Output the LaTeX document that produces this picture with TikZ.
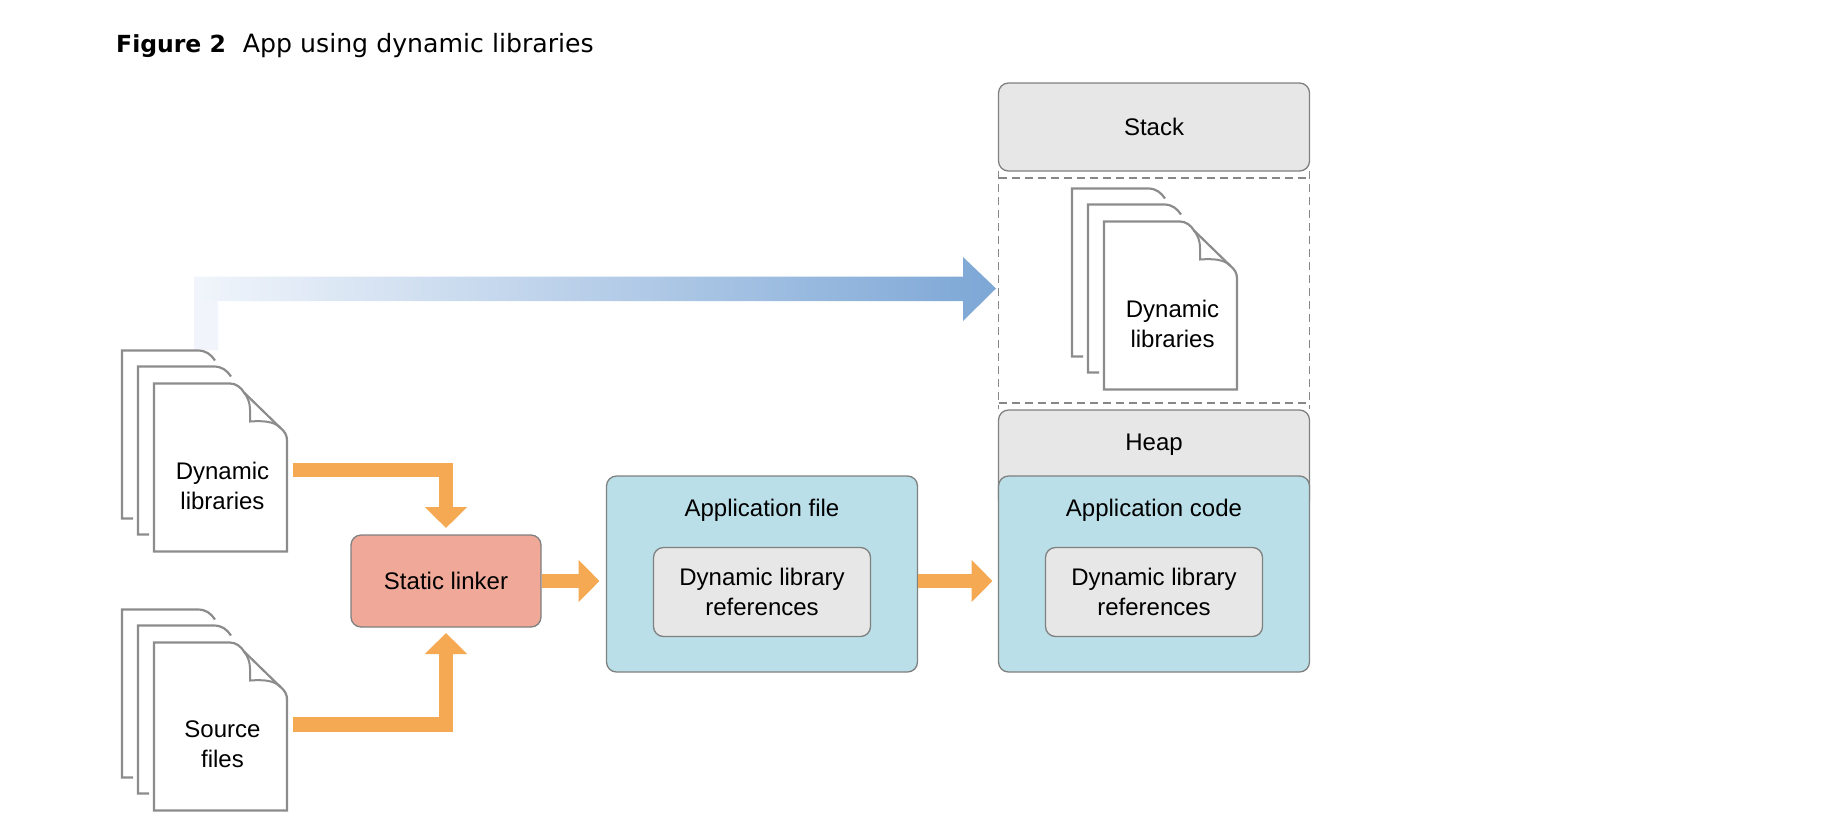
\documentclass[tikz,border=0pt]{standalone}
\usepackage{fontspec}
\setmainfont{Liberation Sans}
\newfontfamily\titlefont{DejaVu Sans}
\usetikzlibrary{arrows.meta}
\definecolor{stroke}{HTML}{7F8080}
\definecolor{pagestroke}{HTML}{8C8C8C}
\definecolor{dashcol}{HTML}{868787}
\definecolor{panelgray}{HTML}{E6E7E6}
\definecolor{panelblue}{HTML}{BADFE8}
\definecolor{panelred}{HTML}{F0A898}
\definecolor{flowcol}{HTML}{F5A952}
\definecolor{bluestart}{HTML}{F1F5FB}
\definecolor{blueend}{HTML}{7DA7D6}
\tikzset{
  x=1pt,y=-1pt,
  box/.style={draw=stroke,line width=1.3pt,rounded corners=10pt,inner sep=0pt,outer sep=0pt,anchor=center},
  txt/.style={font=\fontsize{24}{30}\selectfont,align=center,text=black,inner sep=0pt,anchor=center},
  pageline/.style={draw=pagestroke,line width=2.2pt,line join=miter},
  foldline/.style={draw=pagestroke,line width=2pt},
  flow/.style={draw=flowcol,line width=14.7pt,-{Triangle[length=21pt,width=41pt]}},
  dashh/.style={draw=dashcol,line width=1.5pt,dash pattern=on 8pt off 5pt},
  dashv/.style={draw=dashcol,line width=1pt,dash pattern=on 8pt off 5pt},
}
\newcommand{\docstack}[4]{%
  \begin{scope}[shift={(#1,#2)}]
    \foreach \dd in {32,16}{
      \begin{scope}[shift={(-\dd,-\dd-1)}]
        \fill[white] (0,168) -- (0,0) -- (76,0) .. controls (84,0) and (89,4) .. (93,10) -- (93,168) -- cycle;
        \path[pageline] (11,168) -- (0,168) -- (0,0) -- (76,0) .. controls (84,0) and (89,4) .. (93,10);
      \end{scope}
    }
    \path[pageline,fill=white] (0,0) -- (76,0) .. controls (82,0) and (87,4) .. (90,9) -- (126,44)
      .. controls (131,48) and (133,52) .. (133,57) -- (133,168) -- (0,168) -- cycle;
    \path[foldline] (90,9) .. controls (94,14) and (96,20) .. (96,26) -- (96,38)
      .. controls (110,37) and (120,38) .. (126,44);
    \node[txt] (#3) at (68.5,102) {#4};
  \end{scope}
}
\begin{document}
\begin{tikzpicture}
\useasboundingbox (0,0) rectangle (1822,828);
\fill[white] (0,0) rectangle (1822,828);

% title
\node[font=\titlefont\fontsize{25.2}{30}\selectfont,anchor=base west,inner sep=0pt] (title) at (116,52.5)
  {{\fontsize{23.5}{30}\selectfont\textbf{Figure 2}}\hspace{17pt}App using dynamic libraries};

% long blue arrow
\shade[left color=bluestart,right color=blueend]
  (194,350) -- (194,276.5) -- (963,276.5) -- (963,257) -- (996,288.5) -- (963,321) -- (963,301)
  -- (218,301) -- (218,350) -- cycle;
\fill[bluestart] (194,350) rectangle (218,301);

% memory column
\node[box,fill=panelgray,minimum width=311pt,minimum height=88pt] (stack) at (1154,127) {};
\node[txt] (stacklabel) at (1154,127) {Stack};
\path[dashv] (998.5,171) -- (998.5,409);
\path[dashv] (1309.5,171) -- (1309.5,409);
\path[dashh] (998.5,178) -- (1309.5,178);
\path[dashh] (998.5,403) -- (1309.5,403);
\node[box,fill=panelgray,minimum width=311pt,minimum height=100pt] (heap) at (1154,460) {};
\node[txt] (heaplabel) at (1154,445) {Heap};

% boxes
\node[box,fill=panelred,minimum width=190pt,minimum height=92pt] (linker) at (446,581) {};
\node[txt] (linkerlabel) at (446,581) {Static linker};
\node[box,fill=panelblue,minimum width=311pt,minimum height=196pt] (appfile) at (762,574) {};
\node[txt] (appfilelabel) at (762,510.5) {Application file};
\node[box,fill=panelgray,minimum width=217pt,minimum height=89pt] (fileref) at (762,592) {};
\node[txt] (filereflabel) at (762,592) {Dynamic library\\references};
\node[box,fill=panelblue,minimum width=311pt,minimum height=196pt] (appcode) at (1154,574) {};
\node[txt] (appcodelabel) at (1154,510.5) {Application code};
\node[box,fill=panelgray,minimum width=217pt,minimum height=89pt] (coderef) at (1154,592) {};
\node[txt] (codereflabel) at (1154,592) {Dynamic library\\references};

% document stacks
\docstack{154}{383.5}{dynlibs}{Dynamic\\libraries}
\docstack{154}{642.5}{sources}{Source\\files}
\docstack{1104}{221.5}{loadedlibs}{Dynamic\\libraries}

% flow arrows
\coordinate (dlout) at (293,470);
\coordinate (sfout) at (293,724.5);
\draw[flow,shorten >=7pt] (dlout) -| (linker.north);
\draw[flow,shorten >=6pt] (sfout) -| (linker.south);
\draw[flow,shorten >=7pt] ([xshift=1pt]linker.east) -- (linker.east -| appfile.west);
\draw[flow,shorten >=6pt] (linker.east -| appfile.east) -- (linker.east -| appcode.west);
\end{tikzpicture}
\end{document}
